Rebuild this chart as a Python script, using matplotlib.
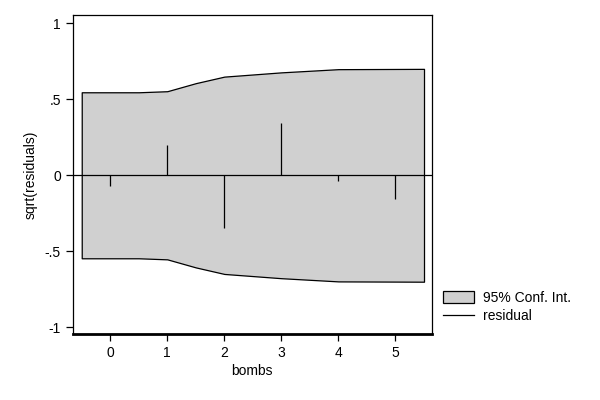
import matplotlib
matplotlib.use("Agg")
import matplotlib.pyplot as plt
from matplotlib.patches import Patch
from matplotlib.lines import Line2D

plt.rcParams['font.family'] = ['Liberation Sans', 'DejaVu Sans']

# confidence band (symmetric around zero)
band_x = [-0.5, 0.5, 1.0, 1.5, 2.0, 3.0, 4.0, 5.5]
band_hi = [0.546, 0.546, 0.553, 0.606, 0.649, 0.677, 0.698, 0.70]
band_lo = [-v for v in band_hi]

# residuals per bomb count
bombs = [0, 1, 2, 3, 4, 5]
resid = [-0.07, 0.197, -0.35, 0.344, -0.035, -0.154]

fig = plt.figure(figsize=(6, 4), dpi=100)
ax = fig.add_axes([0.121, 0.165, 0.599, 0.797])

ax.fill_between(band_x, band_lo, band_hi, facecolor='#d0d0d0',
                edgecolor='black', linewidth=0.9, zorder=1)
ax.axhline(0, color='black', linewidth=0.9, zorder=2)
ax.vlines(bombs, 0, resid, color='black', linewidth=0.9, zorder=3)

ax.set_xlim(-0.66, 5.64)
ax.set_ylim(-1.044, 1.053)
ax.set_xticks(bombs)
ax.set_yticks([1, 0.5, 0, -0.5, -1])
ax.set_yticklabels(['1', '.5', '0', '-.5', '-1'])
ax.tick_params(labelsize=10, length=5, width=0.9, color='black')
for s in ax.spines.values():
    s.set_linewidth(0.9)
ax.spines['bottom'].set_linewidth(2)

ax.set_xlabel('bombs', fontsize=10, labelpad=3)
ax.set_ylabel('sqrt(residuals)', fontsize=10, labelpad=5)

handles = [Patch(facecolor='#d0d0d0', edgecolor='black', linewidth=0.9),
           Line2D([], [], color='black', linewidth=0.9)]
fig.legend(handles, ['95% Conf. Int.', 'residual'], loc='upper left',
           bbox_to_anchor=(0.717, 0.305), frameon=False, fontsize=10,
           handlelength=2.25, handleheight=0.95, handletextpad=0.65,
           labelspacing=0.35)

fig.savefig('out.png', dpi=100)
